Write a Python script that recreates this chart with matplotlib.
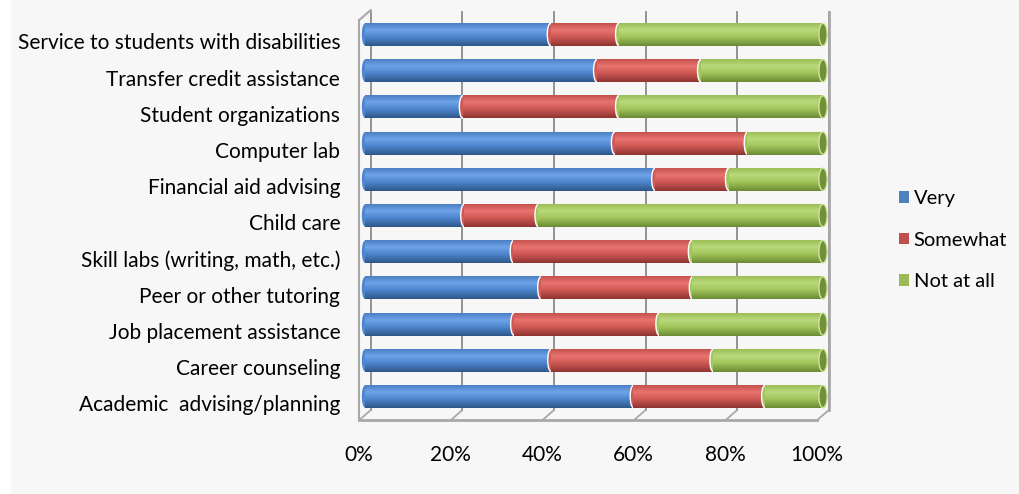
import matplotlib.pyplot as plt
import numpy as np
from matplotlib.patches import Ellipse, Patch, Rectangle
from matplotlib.colors import to_rgb

categories = ['Academic  advising/planning', 'Career counseling', 'Job placement assistance',
              'Peer or other tutoring', 'Skill labs (writing, math, etc.)', 'Child care',
              'Financial aid advising', 'Computer lab', 'Student organizations',
              'Transfer credit assistance', 'Service to students with disabilities']
very = [58.6, 40.6, 32.5, 38.4, 32.4, 21.6, 63.3, 54.5, 21.3, 50.6, 40.5]
somewhat = [28.7, 35.4, 31.7, 33.1, 38.9, 16.2, 16.1, 29.0, 34.1, 22.7, 14.9]
not_at_all = [12.7, 24.0, 35.8, 28.5, 28.7, 62.2, 20.6, 16.5, 44.6, 26.7, 44.6]
series_names = ['Very', 'Somewhat', 'Not at all']
xticks = [0, 20, 40, 60, 80, 100]
xtick_labels = ['0%', '20%', '40%', '60%', '80%', '100%']

base_colors = ['#4f81bd', '#c0504d', '#9bbb59']
# top edge, highlight, middle, bottom shade for each cylinder
shades = [
    ['#4c7fc4', '#6ea3e8', '#4e86cf', '#2f5788'],
    ['#c4524f', '#e8736f', '#cf5955', '#8f3431'],
    ['#9dbd58', '#bad97c', '#a2c55c', '#6b8a34'],
]
cap_colors = ['#3f6fae', '#b04541', '#71903a']

plt.rcParams['font.family'] = ['Lato', 'DejaVu Sans']
fsize = 15

fig = plt.figure(figsize=(10.19, 4.94), dpi=100, facecolor='#f7f7f7')
fig.patches.append(Rectangle((0, 0), 10 / 1019, 1, transform=fig.transFigure,
                             color='white', zorder=0))
ax = fig.add_axes([345 / 1019, 64 / 494, 500 / 1019, 425 / 494])
ax.set_facecolor('#f7f7f7')
for s in ax.spines.values():
    s.set_visible(False)

xlim = (-4.37, 104.8)
ylim = (-0.925, 10.815)
dx, dy = 1.25, 0.138     # depth offset of the back wall
bar_h = 0.635
y = np.arange(len(categories))


def gradient(cols, n=64):
    stops = [0.0, 0.3, 0.6, 1.0]
    rgb = np.array([to_rgb(c) for c in cols])
    t = np.linspace(0, 1, n)
    img = np.stack([np.interp(t, stops, rgb[:, k]) for k in range(3)], axis=1)
    return img[:, None, :]


# back wall gridlines and floor
grid_c = '#8a8a8a'
edge_c = '#a8a8a8'
for v in xticks:
    ax.plot([v + dx, v + dx], [-dy * 2.7, ylim[1] - 0.2], color=grid_c, lw=1.3, zorder=1)
    ax.plot([v - dx, v + dx], [-0.65, -0.65 + 2 * dy], color=edge_c, lw=1.3, zorder=1)
ax.plot([-dx, 100 - dx], [-0.65, -0.65], color=edge_c, lw=2, zorder=1)
ax.plot([-dx, -dx], [-0.65, 10.40], color=edge_c, lw=1.5, zorder=1)
ax.plot([-dx, dx], [10.40, 10.40 + 2 * dy], color=edge_c, lw=1.5, zorder=1)
ax.plot([100 + dx, 100 + dx], [-0.37, 10.62], color=edge_c, lw=2, zorder=1)

# stacked cylinders
left = np.zeros(len(categories))
for k, vals in enumerate([very, somewhat, not_at_all]):
    img = gradient(shades[k])
    for i, w in enumerate(vals):
        z = 3 + k
        ec = 'none' if k == 0 else 'white'
        ax.add_patch(Ellipse((left[i], y[i]), 1.4, bar_h * 0.97, facecolor=shades[k][2],
                             edgecolor=ec, lw=1.0, zorder=z))
        ax.imshow(img, extent=(left[i], left[i] + w, y[i] - bar_h / 2, y[i] + bar_h / 2),
                  aspect='auto', interpolation='bilinear', zorder=z)
        if k == 2:
            ax.add_patch(Ellipse((left[i] + w, y[i]), 1.8, bar_h * 0.97,
                                 facecolor=cap_colors[k], edgecolor='#cfe59a',
                                 lw=1.0, zorder=z + 1))
    left += np.array(vals)

ax.set_xlim(*xlim)
ax.set_ylim(*ylim)

ax.set_yticks(y - 0.19, categories, fontsize=fsize, color='black')
ax.set_xticks([v - 1.35 for v in xticks], xtick_labels, fontsize=fsize)
ax.tick_params(axis='y', length=0, pad=3.5)
ax.tick_params(axis='x', length=0, pad=11)

handles = [Patch(facecolor=c, edgecolor='none') for c in base_colors]
fig.legend(handles, series_names, loc='center left', bbox_to_anchor=(0.864, 0.514),
           frameon=False, fontsize=14.5, handlelength=0.5, handleheight=0.5,
           handletextpad=0.25, labelspacing=1.22)

fig.savefig('out.png', dpi=100, facecolor=fig.get_facecolor())
